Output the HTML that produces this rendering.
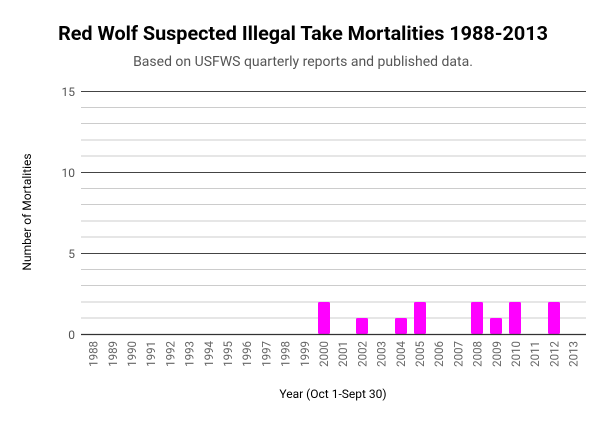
<!DOCTYPE html>
<html><head><meta charset="utf-8"><style>
body{margin:0;background:#fff;}
</style></head><body>
<svg width="607" height="423" xmlns="http://www.w3.org/2000/svg" font-family="Roboto, 'Liberation Sans', sans-serif">
<rect width="607" height="423" fill="#fff"/>
<text x="303" y="40" text-anchor="middle" font-size="19.8" font-weight="bold" fill="#000">Red Wolf Suspected Illegal Take Mortalities 1988-2013</text>
<text x="303" y="66" text-anchor="middle" font-size="14" fill="#555">Based on USFWS quarterly reports and published data.</text>
<g stroke="#ccc" stroke-width="1">
<line x1="81" x2="586" y1="107.5" y2="107.5"/><line x1="81" x2="586" y1="123.5" y2="123.5"/><line x1="81" x2="586" y1="140" y2="140"/><line x1="81" x2="586" y1="156" y2="156"/>
<line x1="81" x2="586" y1="188.5" y2="188.5"/><line x1="81" x2="586" y1="204.5" y2="204.5"/><line x1="81" x2="586" y1="221" y2="221"/><line x1="81" x2="586" y1="237" y2="237"/>
<line x1="81" x2="586" y1="269.5" y2="269.5"/><line x1="81" x2="586" y1="285.5" y2="285.5"/><line x1="81" x2="586" y1="302" y2="302"/><line x1="81" x2="586" y1="318" y2="318"/>
</g>
<g stroke="#444" stroke-width="1">
<line x1="81" x2="586" y1="91.5" y2="91.5"/><line x1="81" x2="586" y1="172.5" y2="172.5"/><line x1="81" x2="586" y1="253.5" y2="253.5"/>
</g>
<g font-size="12" fill="#555" text-anchor="end">
<text x="75" y="96">15</text><text x="75" y="177">10</text><text x="75" y="258">5</text><text x="75" y="339">0</text>
</g>
<g fill="#ff00ff">
<rect x="318" y="302" width="12" height="32" rx="1.5"/>
<rect x="356" y="318" width="12" height="16" rx="1.5"/>
<rect x="395" y="318" width="12" height="16" rx="1.5"/>
<rect x="414" y="302" width="12" height="32" rx="1.5"/>
<rect x="471" y="302" width="12" height="32" rx="1.5"/>
<rect x="490" y="318" width="12" height="16" rx="1.5"/>
<rect x="509" y="302" width="12" height="32" rx="1.5"/>
<rect x="548" y="302" width="12" height="32" rx="1.5"/>
</g>
<line x1="81" x2="586" y1="334.5" y2="334.5" stroke="#333" stroke-width="1.2"/>
<g font-size="11.5" fill="#666" text-anchor="end" id="xl"></g>
<text x="333" y="398" text-anchor="middle" font-size="12" fill="#000">Year (Oct 1-Sept 30)</text>
<text transform="translate(31,212) rotate(-90)" text-anchor="middle" font-size="12" fill="#000">Number of Mortalities</text>
<script>
var g=document.getElementById('xl');
for(var i=0;i<26;i++){var x=84+19.2*(i+0.5)+4;var t=document.createElementNS('http://www.w3.org/2000/svg','text');
t.setAttribute('transform','translate('+x.toFixed(1)+',341) rotate(-90)');t.textContent=1988+i;g.appendChild(t);}
</script>
</svg>
</body></html>
